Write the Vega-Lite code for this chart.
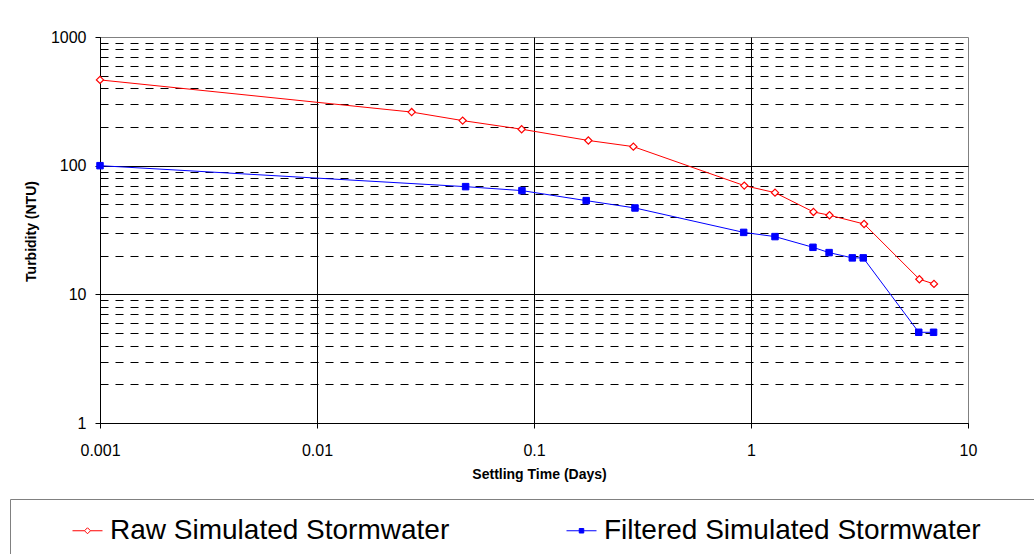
{
  "$schema": "https://vega.github.io/schema/vega-lite/v6.json",
  "width": 868,
  "height": 386,
  "autosize": {"type": "none"},
  "padding": {"left": 100, "top": 37, "right": 66, "bottom": 131},
  "background": "white",
  "config": {
    "view": {"stroke": "#808080", "strokeWidth": 1},
    "font": "Liberation Sans"
  },
  "data": {
    "values": [
      {"series": "Raw Simulated Stormwater", "days": 0.001, "ntu": 464},
      {"series": "Raw Simulated Stormwater", "days": 0.0273, "ntu": 261},
      {"series": "Raw Simulated Stormwater", "days": 0.0469, "ntu": 224},
      {"series": "Raw Simulated Stormwater", "days": 0.0877, "ntu": 192},
      {"series": "Raw Simulated Stormwater", "days": 0.178, "ntu": 157},
      {"series": "Raw Simulated Stormwater", "days": 0.287, "ntu": 140.6},
      {"series": "Raw Simulated Stormwater", "days": 0.931, "ntu": 70},
      {"series": "Raw Simulated Stormwater", "days": 1.29, "ntu": 61.7},
      {"series": "Raw Simulated Stormwater", "days": 1.94, "ntu": 43.7},
      {"series": "Raw Simulated Stormwater", "days": 2.3, "ntu": 41.2},
      {"series": "Raw Simulated Stormwater", "days": 3.32, "ntu": 35.2},
      {"series": "Raw Simulated Stormwater", "days": 5.97, "ntu": 13.1},
      {"series": "Raw Simulated Stormwater", "days": 6.97, "ntu": 12.05},
      {"series": "Filtered Simulated Stormwater", "days": 0.001, "ntu": 100},
      {"series": "Filtered Simulated Stormwater", "days": 0.0484, "ntu": 68.7},
      {"series": "Filtered Simulated Stormwater", "days": 0.088, "ntu": 64},
      {"series": "Filtered Simulated Stormwater", "days": 0.174, "ntu": 53.5},
      {"series": "Filtered Simulated Stormwater", "days": 0.292, "ntu": 46.9},
      {"series": "Filtered Simulated Stormwater", "days": 0.925, "ntu": 30.3},
      {"series": "Filtered Simulated Stormwater", "days": 1.29, "ntu": 28.1},
      {"series": "Filtered Simulated Stormwater", "days": 1.93, "ntu": 23.2},
      {"series": "Filtered Simulated Stormwater", "days": 2.29, "ntu": 21.1},
      {"series": "Filtered Simulated Stormwater", "days": 2.93, "ntu": 19.2},
      {"series": "Filtered Simulated Stormwater", "days": 3.29, "ntu": 19.2},
      {"series": "Filtered Simulated Stormwater", "days": 5.93, "ntu": 5.07},
      {"series": "Filtered Simulated Stormwater", "days": 6.94, "ntu": 5.07}
    ]
  },
  "encoding": {
    "x": {
      "field": "days",
      "type": "quantitative",
      "scale": {"type": "log", "domain": [0.001, 10], "nice": false},
      "axis": {
        "values": [0.001, 0.01, 0.1, 1, 10],
        "format": "~g",
        "title": "Settling Time (Days)",
        "titleFontSize": 14,
        "titleFontWeight": "bold",
        "titleColor": "black",
        "titleX": 439,
        "titleY": 51,
        "titleBaseline": "middle",
        "labelFontSize": 16,
        "labelColor": "black",
        "labelPadding": 14,
        "labelFlush": false,
        "labelOverlap": false,
        "tickSize": 5,
        "tickColor": "black",
        "domainColor": "black",
        "grid": true,
        "gridColor": "black",
        "gridOpacity": {"condition": {"test": "datum.value >= 10", "value": 0}, "value": 1}
      }
    },
    "y": {
      "field": "ntu",
      "type": "quantitative",
      "scale": {"type": "log", "domain": [1, 1000], "nice": false},
      "axis": {
        "values": [1, 2, 3, 4, 5, 6, 7, 8, 9, 10, 20, 30, 40, 50, 60, 70, 80, 90, 100, 200, 300, 400, 500, 600, 700, 800, 900, 1000],
        "labelExpr": "(datum.value == 1 || datum.value == 10 || datum.value == 100 || datum.value == 1000) ? format(datum.value, 'd') : ''",
        "title": "Turbidity (NTU)",
        "titleFontSize": 14,
        "titleFontWeight": "bold",
        "titleColor": "black",
        "titleX": -69,
        "titleY": 194,
        "titleAngle": 270,
        "titleAlign": "center",
        "titleBaseline": "middle",
        "labelFontSize": 16,
        "labelColor": "black",
        "labelPadding": 9,
        "labelOverlap": false,
        "labelFlush": false,
        "tickSize": 5,
        "tickColor": "black",
        "tickOpacity": {"condition": {"test": "datum.value == 1 || datum.value == 10 || datum.value == 100 || datum.value == 1000", "value": 1}, "value": 0},
        "domainColor": "black",
        "grid": true,
        "gridColor": "black",
        "gridDash": {"condition": {"test": "datum.value == 1 || datum.value == 10 || datum.value == 100 || datum.value == 1000", "value": []}, "value": [8, 7]},
        "gridOpacity": {"condition": {"test": "datum.value >= 1000", "value": 0}, "value": 1}
      }
    }
  },
  "layer": [
    {
      "mark": {"type": "line", "strokeWidth": 1},
      "encoding": {
        "color": {
          "field": "series",
          "type": "nominal",
          "scale": {"domain": ["Raw Simulated Stormwater", "Filtered Simulated Stormwater"], "range": ["#FF0000", "#0000FF"]},
          "legend": {
            "orient": "none",
            "legendX": -90,
            "legendY": 462,
            "direction": "horizontal",
            "columns": 2,
            "title": null,
            "strokeColor": "#808080",
            "fillColor": "white",
            "padding": 16,
            "symbolSize": 900,
            "symbolStrokeWidth": 1,
            "symbolOffset": 46,
            "labelOffset": 7,
            "labelFontSize": 28,
            "labelColor": "black",
            "labelLimit": 1000,
            "columnPadding": 70,
            "encode": {
              "symbols": {
                "update": {
                  "shape": {"signal": "datum.value === 'Raw Simulated Stormwater' ? 'M0,-1.2M0,1.2M-1,0L-0.2,0M0.2,0L1,0M-0.2,0L0,-0.2L0.2,0L0,0.2Z' : 'M0,-1.2M0,1.2M30,0M-1,0L1,0M-0.15,-0.15L0.15,-0.15L0.15,0.15L-0.15,0.15Z'"},
                  "fill": {"signal": "datum.value === 'Raw Simulated Stormwater' ? 'white' : '#0000FF'"},
                  "fillOpacity": {"value": 1},
                  "strokeWidth": {"value": 1}
                }
              }
            }
          }
        }
      }
    },
    {
      "transform": [{"filter": "datum.series === 'Raw Simulated Stormwater'"}],
      "mark": {"type": "point", "shape": "diamond", "size": 52, "strokeWidth": 1.2, "opacity": 1, "fill": "white", "stroke": "#FF0000", "filled": false}
    },
    {
      "transform": [{"filter": "datum.series === 'Filtered Simulated Stormwater'"}],
      "mark": {"type": "point", "shape": "square", "size": 42, "strokeWidth": 1, "opacity": 1, "fill": "#0000FF", "stroke": "#0000FF", "filled": true}
    }
  ]
}
